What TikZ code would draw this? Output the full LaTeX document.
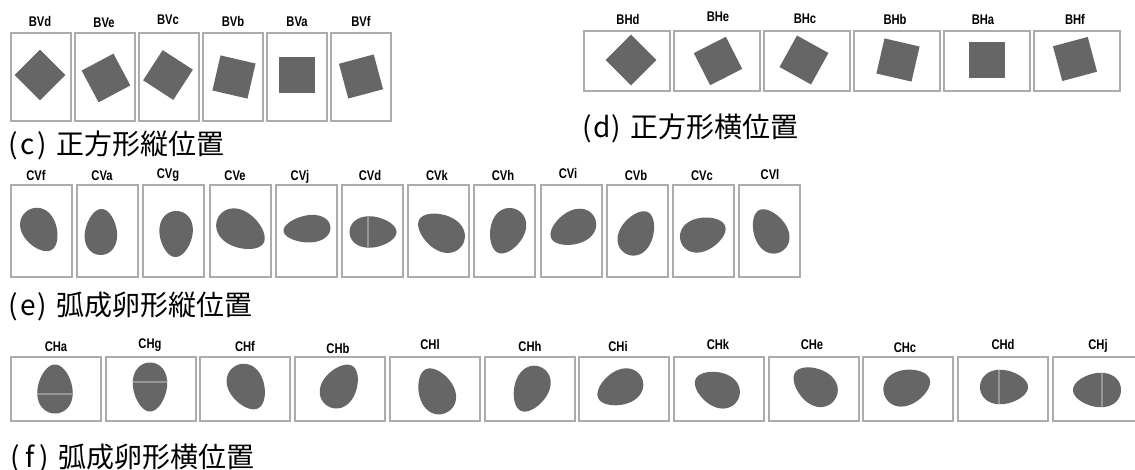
\documentclass[tikz,border=0pt]{standalone}
\usepackage{fontspec}
\setmainfont{Liberation Sans}
\newfontfamily\jpfont{Noto Sans CJK JP}
\definecolor{shapec}{RGB}{102,102,102}
\definecolor{boxc}{RGB}{172,172,172}
\definecolor{seamc}{RGB}{150,150,150}
\tikzset{
  frame/.style={draw=boxc, line width=1pt, fill=white, inner sep=0pt},
  vframe/.style={frame, minimum width=30pt, minimum height=44pt},
  hframe/.style={frame, minimum width=43pt, minimum height=30pt},
  eframe/.style={frame, minimum width=30.5pt, minimum height=46pt},
  fframe/.style={frame, minimum width=45pt, minimum height=32pt},
  lab/.style={inner sep=0pt, anchor=base, font=\fontsize{7}{8}\selectfont\bfseries},
  captext/.style={inner sep=0pt, anchor=base west, font=\jpfont\fontsize{14}{16}\selectfont},
}
\newcommand\lbl[3]{\node[lab] (#1) at (#2) {\scalebox{0.8}[1]{#3}};}
\newcommand\tag[1]{\makebox[7.25pt][c]{(}\makebox[7.25pt][c]{#1}\makebox[7.25pt][c]{)}\hspace{3.5pt}}
\newcommand\sq[3]{\fill[shapec, shift={(#1,#2)}, rotate=#3] (-18,-18) -- (18,-18) -- (18,18) -- (-18,18) -- cycle;}
\newcommand\egg[5]{\begin{scope}[shift={(#1,#2)},rotate=#3]
  \fill[shapec] plot[domain=0:355,samples=72,smooth cycle] ({#4/2*cos(\x)},{#5/2*sin(\x)*(1+0.17*cos(\x))});
\end{scope}}
\newcommand\seamegg[5]{\begin{scope}[shift={(#1,#2)},rotate=#3]
  \fill[shapec] plot[domain=0:355,samples=72,smooth cycle] ({#4/2*cos(\x)},{#5/2*sin(\x)*(1+0.17*cos(\x))});
  \clip plot[domain=0:355,samples=72,smooth cycle] ({#4/2*cos(\x)},{#5/2*sin(\x)*(1+0.17*cos(\x))});
  \draw[seamc, line width=0.6pt] (5,-30) -- (5,30);
\end{scope}}
\begin{document}
\begin{tikzpicture}[x=0.5pt,y=-0.5pt]
\path[use as bounding box] (0,0) rectangle (1135,470);
\clip (0,0) rectangle (1135,470);

% ---------- (c) square, vertical frames ----------
\foreach \i in {0,...,5} { \node[vframe] (bv\i) at ({41+64*\i},77) {}; }
\lbl{lbvd}{40,27}{BVd}
\lbl{lbve}{104,28}{BVe}
\lbl{lbvc}{168,25}{BVc}
\lbl{lbvb}{233,27}{BVb}
\lbl{lbva}{297,27}{BVa}
\lbl{lbvf}{361,27}{BVf}
\sq{40}{75}{45}
\sq{106}{78}{28}
\sq{168}{75}{-33}
\sq{234}{77}{-13}
\sq{297}{75}{0}
\sq{361}{76.5}{15}
\node[captext] (capc) at (6,155) {\tag{c}正方形縦位置};

% ---------- (d) square, horizontal frames ----------
\foreach \i in {0,...,5} { \node[hframe] (bh\i) at ({627+90*\i},61) {}; }
\lbl{lbhd}{628,25}{BHd}
\lbl{lbhe}{718,22}{BHe}
\lbl{lbhc}{805,24}{BHc}
\lbl{lbhb}{895,25}{BHb}
\lbl{lbha}{983,25}{BHa}
\lbl{lbhf}{1075,25}{BHf}
\sq{631}{60}{45}
\sq{718}{61}{27}
\sq{804}{60}{-29}
\sq{898}{60}{-13}
\sq{987}{60}{0}
\sq{1075}{59}{15}
\node[captext] (capd) at (580,138) {\tag{d}正方形横位置};

% ---------- (e) egg, vertical frames ----------
\foreach \i in {0,...,11} { \node[eframe] (ev\i) at ({41.5+66.2*\i},231) {}; }
\lbl{lcvf}{36,181}{CVf}
\lbl{lcva}{102,181}{CVa}
\lbl{lcvg}{168,179}{CVg}
\lbl{lcve}{235,181}{CVe}
\lbl{lcvj}{300,181}{CVj}
\lbl{lcvd}{370,181}{CVd}
\lbl{lcvk}{437,181}{CVk}
\lbl{lcvh}{503,181}{CVh}
\lbl{lcvi}{568,179}{CVi}
\lbl{lcvb}{636,181}{CVb}
\lbl{lcvc}{702,181}{CVc}
\lbl{lcvl}{770,180}{CVl}
\egg{40}{230}{120}{46}{34}
\egg{101}{232}{-92}{46}{32}
\egg{176}{234}{88}{46}{33}
\egg{241}{230}{150}{52}{36}
\egg{307}{229}{5}{47}{27}
\seamegg{373}{232}{180}{47}{31}
\egg{441}{232}{-30}{50}{35}
\egg{507}{231}{68}{47}{34}
\egg{573}{228}{25}{48}{33}
\egg{637}{233}{-118}{47}{33}
\egg{703}{234}{-160}{47}{33}
\egg{770}{231}{-62}{47}{33}
\node[captext] (cape) at (6,315) {\tag{e}弧成卵形縦位置};

% ---------- (f) egg, horizontal frames ----------
\foreach \i in {0,...,11} { \node[fframe] (fh\i) at ({56+94.7*\i},389) {}; }
\lbl{lcha}{56,351}{CHa}
\lbl{lchg}{150,349}{CHg}
\lbl{lchf}{245,351}{CHf}
\lbl{lchb}{338,353}{CHb}
\lbl{lchl}{430,350}{CHl}
\lbl{lchh}{530,351}{CHh}
\lbl{lchi}{618,351}{CHi}
\lbl{lchk}{718,350}{CHk}
\lbl{lche}{812,350}{CHe}
\lbl{lchc}{905,352}{CHc}
\lbl{lchd}{1003,350}{CHd}
\lbl{lchj}{1098,350}{CHj}
\seamegg{55}{389}{-90}{49}{35}
\seamegg{150}{387}{90}{49}{34}
\egg{247}{387}{118}{48}{35}
\egg{340}{386}{-122}{47}{34}
\egg{436}{391}{-65}{48}{35}
\egg{531}{389}{65}{48}{34}
\egg{620}{388}{25}{48}{34}
\egg{717}{389}{-25}{47}{34}
\egg{815}{386}{-35}{48}{35}
\egg{907}{387}{-160}{48}{35}
\seamegg{1004}{387}{180}{48}{34}
\seamegg{1097}{390}{0}{48}{34}
\node[captext] (capf) at (8,467) {\tag{f}弧成卵形横位置};
\end{tikzpicture}
\end{document}
